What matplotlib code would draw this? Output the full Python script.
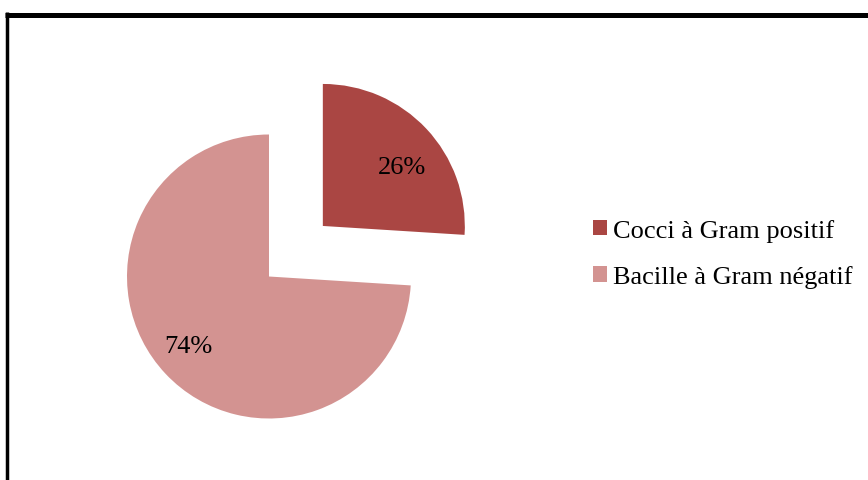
import matplotlib.pyplot as plt
from matplotlib.lines import Line2D
from matplotlib.patches import Patch

# data
labels = ['Cocci à Gram positif', 'Bacille à Gram négatif']
values = [26, 74]
colors = ['#AA4643', '#D39391']
explode = [0.52, 0]

W, H = 868, 481
fig = plt.figure(figsize=(W / 100, H / 100), dpi=100)
plt.rcParams['font.family'] = ['Liberation Serif', 'DejaVu Serif']

# pie axes: center at (269, 277) px, radius ~142 px
cx, cy, r = 269, 277.5, 142
half = 200
ax = fig.add_axes([(cx - half) / W, (H - cy - half) / H, 2 * half / W, 2 * half / H])
wedges, _, pcts = ax.pie(values, colors=colors, explode=explode, startangle=90,
                         counterclock=False, autopct='%1.0f%%', pctdistance=0.72,
                         textprops={'fontsize': 19, 'color': 'black'},
                         wedgeprops={'linewidth': 0})
# small nudges so labels sit like in the original (Excel placement)
for t, (dx, dy) in zip(pcts, [(0.03, -0.08), (-0.04, 0.0)]):
    x, y = t.get_position()
    t.set_position((x + dx, y + dy))
lim = half / r
ax.set_xlim(-lim, lim)
ax.set_ylim(-lim, lim)
ax.axis('off')

# frame around the chart (cut off at right and bottom)
fig.add_artist(Line2D([5 / W, 1], [1 - 15.5 / H, 1 - 15.5 / H], color='black',
                      lw=3.6, transform=fig.transFigure, solid_capstyle='butt'))
fig.add_artist(Line2D([6.5 / W, 6.5 / W], [0, 1 - 13 / H], color='black',
                      lw=2.5, transform=fig.transFigure, solid_capstyle='butt'))

handles = [Patch(facecolor=c, edgecolor='none') for c in colors]
fig.legend(handles, labels, loc='upper left', bbox_to_anchor=(593 / W, 1 - 220 / H),
           frameon=False, fontsize=19, handlelength=0.53, handleheight=0.53,
           handletextpad=0.23, labelspacing=0.88, borderpad=0, borderaxespad=0)

fig.savefig('out.png', dpi=100)
